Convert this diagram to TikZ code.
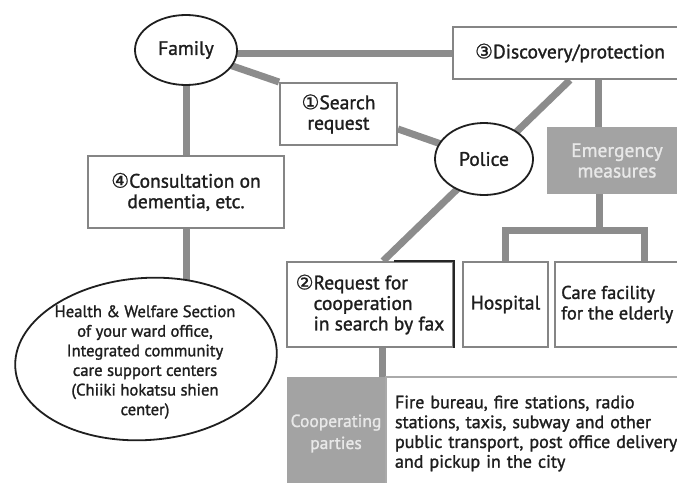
\documentclass[tikz,border=0pt]{standalone}
\usepackage{fontspec}
\setmainfont{PT Sans}[FakeBold=1.3]
\newfontfamily\symfont{DejaVu Sans}[FakeBold=0.8]
\usetikzlibrary{shapes.geometric}
\pgfdeclarelayer{paper}
\pgfdeclarelayer{links}
\pgfsetlayers{paper,links,main}
\definecolor{linegray}{HTML}{8C8C8C}
\definecolor{boxgray}{HTML}{858585}
\definecolor{fillgray}{HTML}{A3A3A3}
\definecolor{txt}{HTML}{1E1E1E}
\definecolor{ltxt}{HTML}{E8E8E8}
\newcommand{\cn}[1]{{\symfont\fontsize{20}{20}\selectfont #1}}
\begin{document}
\begin{tikzpicture}[x=1pt,y=-1pt,
 conn/.style={draw=linegray,line width=7pt},
 oval/.style={ellipse,draw=black!88,line width=1.8pt,fill=white,inner sep=0pt,text=txt,align=center},
 wbox/.style={rectangle,draw=boxgray,line width=2pt,fill=white,inner sep=0pt,text=txt},
 gbox/.style={rectangle,fill=fillgray,inner sep=0pt,text=ltxt,align=center},
 big/.style={font=\fontsize{19.5}{20.5}\selectfont},
 mid/.style={font=\fontsize{16.6}{19.6}\selectfont},
 fir/.style={font=\fontsize{18}{19.8}\selectfont},
 ]
\clip (0,0) rectangle (677,482);
\begin{pgfonlayer}{paper}
\fill[white] (0,0) rectangle (677,482);
\end{pgfonlayer}

% nodes
\node[oval,big,minimum width=102pt,minimum height=70pt] (family) at (186,50) {Family};
\node[wbox,big,minimum width=234pt,minimum height=52pt] (disc) at (570,53) {\cn{③}Discovery/protection};
\node[wbox,big,minimum width=117pt,minimum height=62pt,align=center] (search) at (338.5,114) {\cn{①}Search\\request};
\node[oval,big,minimum width=98pt,minimum height=72pt] (police) at (484,159) {Police};
\node[gbox,big,minimum width=140pt,minimum height=67pt] (emerg) at (617,160.5) {Emergency\\measures};
\node[wbox,big,minimum width=196pt,minimum height=72pt,align=center] (consult) at (186,192) {\cn{④}Consultation on\\dementia, etc.};
\node[oval,rotate=4,minimum width=262pt,minimum height=162pt] (health) at (146,359) {};
\node[inner sep=0pt,text=txt,align=center,mid] (healthtext) at ([yshift=-3pt,xshift=-1pt]health.center) {Health \& Welfare Section\\of your ward office,\\Integrated community\\care support centers\\(Chiiki hokatsu shien\\center)};
\node[wbox,big,minimum width=166pt,minimum height=85pt,align=left] (request) at (370,304.5) {\cn{②}Request for\\\hphantom{\cn{②}}cooperation\\\hphantom{\cn{②}}in search by fax};
\node[wbox,big,minimum width=85pt,minimum height=85pt] (hospital) at (505.5,304.5) {Hospital};
\node[wbox,minimum width=135pt,minimum height=85pt] (care) at (622.5,304.5) {};
\node[anchor=west,inner sep=0pt,text=txt,align=left,font=\fontsize{18.5}{20.5}\selectfont] (caretext) at ([xshift=7pt]care.west) {Care facility\\for the elderly};
\node[gbox,font=\fontsize{17.5}{22}\selectfont,minimum width=98pt,minimum height=113pt] (coop) at (336,433.5) {Cooperating\\parties};
\node[rectangle,draw=boxgray!70,line width=1.5pt,fill=white,fir,text=txt,text width=290pt,inner xsep=9pt,inner ysep=0pt,minimum height=113pt,align=left] (fire) at (540,433.5) {Fire bureau, fire stations, radio\\stations, taxis, subway and other\\public transport, post office delivery\\and pickup in the city};
\fill[fillgray] (coop.north east) rectangle (coop.south east);
\draw[black!85,line width=2pt] ([xshift=-60pt]request.north east) -- (request.north east) -- (request.south east);

% connectors
\begin{pgfonlayer}{links}
\draw[conn] (family.center |- disc.west) -- (disc.west);
\draw[conn] (family.center) -- (search.north west);
\draw[conn] ([yshift=-15pt]search.east) -- (police.center);
\draw[conn] ([xshift=13pt]request.north) -- (disc.south);
\draw[conn] ([xshift=28pt]disc.south) -- ([xshift=28pt]disc.south |- emerg.north);
\draw[conn] ([xshift=-18pt]emerg.south) -- ++(0,37);
\draw[conn,line cap=rect] (hospital.north) -- ++(0,-31) -| ([xshift=22pt]care.north);
\draw[conn] (family.center) -- (consult.north);
\draw[conn] (consult.south) -- (consult.south |- health.center);
\draw[conn] ([xshift=12pt]request.south) -- ([xshift=12pt]request.south |- coop.north);
\end{pgfonlayer}
\end{tikzpicture}
\end{document}
